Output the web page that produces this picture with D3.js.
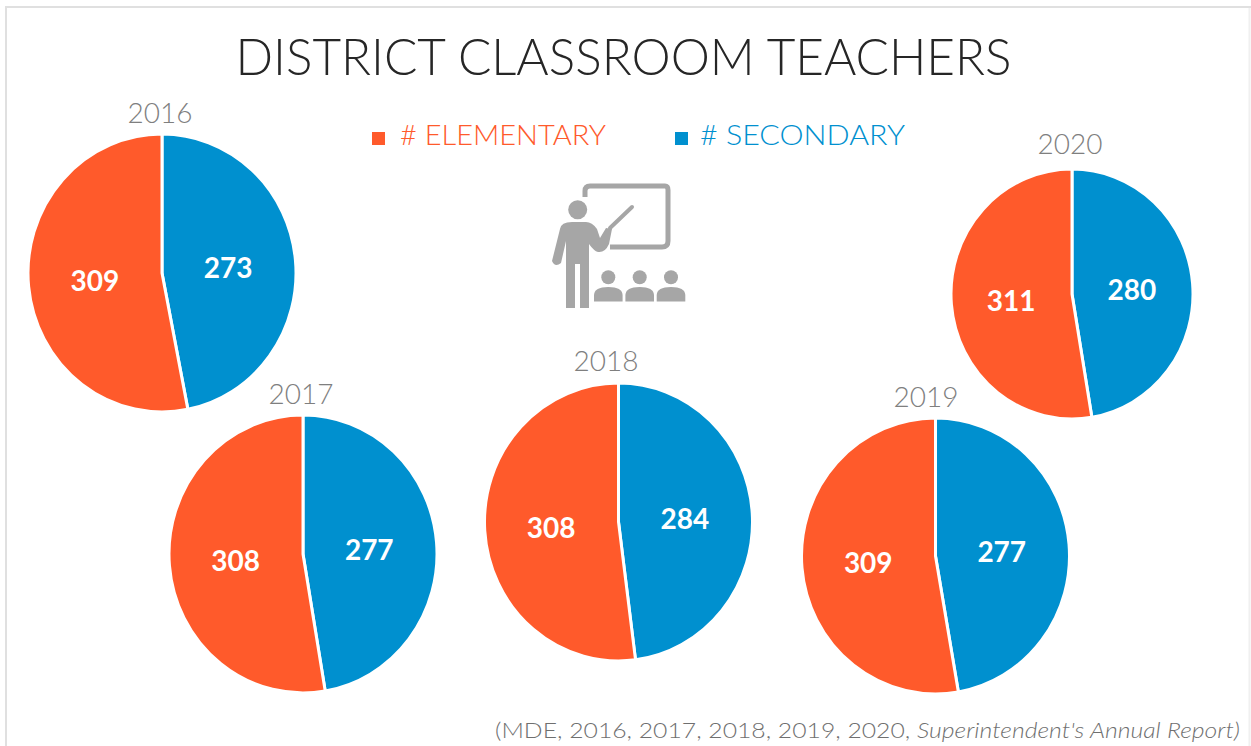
<!DOCTYPE html>
<html><head><meta charset="utf-8">
<script src="https://cdn.jsdelivr.net/npm/d3@7"></script>
<style>html,body{margin:0;padding:0;background:#fff;overflow:hidden}svg{display:block}text{font-family:Lato,"Open Sans",sans-serif}</style>
</head><body><svg id="c" width="1251" height="746"></svg>
<script>
const years=[2016,2017,2018,2019,2020];
const elementary=[309,308,308,309,311];
const secondary=[273,277,284,277,280];
const seriesNames=["# ELEMENTARY","# SECONDARY"];
const colors={elementary:"#ff5a2b",secondary:"#0090cf"};
const centersX=[162,303,618.5,935.5,1072];
const centersY=[273,554,522,556,294];
const radiiX=[134,134,134,134,121];
const radiiY=[139,139,139,138,125];
const yearX=[160,301,606,926,1070];
const yearY=[123,404,371,407,154];
const titleText="DISTRICT CLASSROOM TEACHERS";

const svg=d3.select("#c");
svg.append("path").attr("d","M6 746V7H1251").attr("fill","none").attr("stroke","#e0e0e0").attr("stroke-width",2);
svg.append("path").attr("d","M1249.5 8V746").attr("fill","none").attr("stroke","#f0f0f0").attr("stroke-width",2);
svg.append("text").attr("x",623.5).attr("y",75).attr("text-anchor","middle").attr("font-size",52).attr("font-weight",300).attr("fill","#262626").attr("textLength",776).attr("lengthAdjust","spacingAndGlyphs").text(titleText);

const legend=[{x:372,tx:400,w:206,c:colors.elementary,t:seriesNames[0]},{x:675,tx:700,w:205,c:colors.secondary,t:seriesNames[1]}];
legend.forEach(l=>{
 svg.append("rect").attr("x",l.x).attr("y",132).attr("width",13).attr("height",13).attr("fill",l.c);
 svg.append("text").attr("x",l.tx).attr("y",145).attr("font-size",28).attr("font-weight",300).attr("fill",l.c).attr("textLength",l.w).attr("lengthAdjust","spacingAndGlyphs").text(l.t);
});

const pie=d3.pie().sort(null).value(d=>d.v);
years.forEach((y,i)=>{
 const rx=radiiX[i],ry=radiiY[i],cx=centersX[i],cy=centersY[i];
 const arc=d3.arc().innerRadius(0).outerRadius(rx);
 const vals=[{k:"secondary",v:secondary[i]},{k:"elementary",v:elementary[i]}];
 const arcs=pie(vals);
 const g=svg.append("g").attr("transform",`translate(${cx},${cy}) scale(1,${ry/rx})`);
 g.selectAll("path").data(arcs).join("path").attr("d",arc).attr("fill",d=>colors[d.data.k]).attr("stroke","#fff").attr("stroke-width",3);
 svg.append("g").selectAll("text").data(arcs).join("text")
  .attr("x",d=>cx+arc.centroid(d)[0]-0.5).attr("y",d=>cy+arc.centroid(d)[1]*ry/rx+11.5)
  .attr("text-anchor","middle").attr("font-size",28).attr("font-weight",700).attr("fill","#fff").text(d=>d.data.v);
 svg.append("text").attr("x",yearX[i]).attr("y",yearY[i]).attr("text-anchor","middle").attr("font-size",28).attr("font-weight",300).attr("fill","#7f7f7f").text(y);
});

// teacher pictogram
const ic=svg.append("g").attr("fill","#a6a6a6");
ic.append("path").attr("fill","none").attr("stroke","#a6a6a6").attr("stroke-width",5)
 .attr("d","M585 197V191Q585 186 590 186H665Q668 186 668 190V241Q668 247 662 247H610");
ic.append("circle").attr("cx",577.7).attr("cy",209.7).attr("r",9.5);
ic.append("path").attr("d","M560 229Q561 222 572 222H586Q592 222 597 229L600 238L606 228L612 229L609 244Q605 253 598 252Q594 251 589 244V308H580V264H575V308H566V241L561 263Q555 268 552 261Z");
ic.append("path").attr("fill","none").attr("stroke","#a6a6a6").attr("stroke-width",4).attr("stroke-linecap","round").attr("d","M610 228L632 207");
[608.3,639.7,671].forEach(x=>{
 ic.append("circle").attr("cx",x).attr("cy",277.3).attr("r",7);
 ic.append("path").attr("d",`M${x-14.3} 301.5V295Q${x-14} 287 ${x} 287Q${x+14} 287 ${x+14.3} 295V301.5Z`);
});

const src=svg.append("text").attr("x",495).attr("y",738).attr("font-size",22).attr("font-weight",300).attr("fill","#6f6f6f").attr("textLength",745).attr("lengthAdjust","spacingAndGlyphs");
src.append("tspan").text("(MDE, 2016, 2017, 2018, 2019, 2020, ");
src.append("tspan").attr("font-style","italic").text("Superintendent's Annual Report)");
</script></body></html>
